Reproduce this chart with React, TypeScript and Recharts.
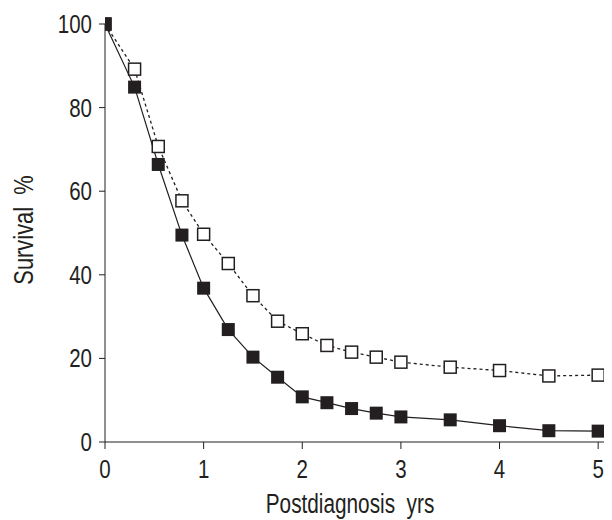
import React from 'react';
import { LineChart, Line, XAxis, YAxis, Label } from 'recharts';

// years after diagnosis
const years = [0, 0.3, 0.54, 0.78, 1, 1.25, 1.5, 1.75, 2, 2.25, 2.5, 2.75, 3, 3.5, 4, 4.5, 5];
// filled squares, solid line
const solidGroup = [100, 84.9, 66.4, 49.5, 36.8, 26.9, 20.3, 15.5, 10.8, 9.4, 8.0, 6.9, 6.0, 5.3, 3.9, 2.7, 2.6];
// open squares, dotted line
const dottedGroup = [100, 89.2, 70.7, 57.7, 49.7, 42.7, 35.0, 28.9, 25.9, 23.1, 21.5, 20.3, 19.1, 17.9, 17.1, 15.8, 16.0];

const xTicks = [0, 1, 2, 3, 4, 5];
const yTicks = [0, 20, 40, 60, 80, 100];

const data = years.map((yr, i) => ({ yr, solid: solidGroup[i], dotted: dottedGroup[i] }));

const ink = '#231f20';
// no condensed Helvetica here, so squeeze Liberation Sans horizontally
const font = "'Liberation Sans', Arial, Helvetica, sans-serif";
const squeeze = 0.82;

const squareDot = (size: number, filled: boolean) => (props: any) => {
  const { cx, cy, index } = props;
  if (cx == null || cy == null) return <g key={`d-${index}`} />;
  return (
    <rect
      key={`d-${index}`}
      x={cx - size / 2}
      y={cy - size / 2}
      width={size}
      height={size}
      fill={filled ? ink : '#fff'}
      stroke={ink}
      strokeWidth={filled ? 0 : 1.5}
    />
  );
};

const XTick = (props: any) => {
  const { x, y, payload } = props;
  return (
    <text
      transform={`translate(${x},${y}) scale(${squeeze},1)`}
      textAnchor="middle"
      dy="0.72em"
      fill={ink}
      fontSize={25}
      fontFamily={font}
    >
      {payload.value}
    </text>
  );
};

const YTick = (props: any) => {
  const { x, y, payload } = props;
  return (
    <text
      transform={`translate(${x},${y}) scale(${squeeze},1)`}
      textAnchor="end"
      dy="0.36em"
      fill={ink}
      fontSize={25}
      fontFamily={font}
    >
      {payload.value}
    </text>
  );
};

export default function App() {
  return (
    <LineChart width={604} height={512} data={data} margin={{ top: 16, right: 2, bottom: 18, left: 0 }}>
      <XAxis
        dataKey="yr"
        type="number"
        domain={[0, 5.12]}
        ticks={xTicks}
        allowDataOverflow
        stroke={ink}
        tickSize={7}
        tickMargin={11}
        height={60}
        tick={<XTick />}
        tickLine={{ stroke: ink }}
      >
        <Label
          content={() => (
            <text
              transform="translate(342,505) scale(0.77,1)"
              textAnchor="middle"
              fill={ink}
              fontSize={27}
              fontFamily={font}
              style={{ whiteSpace: 'pre' }}
            >
              {'Postdiagnosis  yrs'}
            </text>
          )}
        />
      </XAxis>
      <YAxis
        type="number"
        domain={[0, 100]}
        ticks={yTicks}
        width={97}
        stroke={ink}
        tickSize={6}
        tickMargin={7}
        tick={<YTick />}
        tickLine={{ stroke: ink }}
      >
        <Label
          content={() => (
            <text
              transform="translate(25,222) rotate(-90) scale(0.81,1)"
              textAnchor="middle"
              fill={ink}
              fontSize={27}
              fontFamily={font}
              style={{ whiteSpace: 'pre' }}
            >
              {'Survival  %'}
            </text>
          )}
        />
      </YAxis>
      <Line
        dataKey="dotted"
        stroke={ink}
        strokeWidth={1.3}
        strokeDasharray="3 3"
        dot={squareDot(12, false)}
        isAnimationActive={false}
      />
      <Line
        dataKey="solid"
        stroke={ink}
        strokeWidth={1.2}
        dot={squareDot(13, true)}
        isAnimationActive={false}
      />
    </LineChart>
  );
}
